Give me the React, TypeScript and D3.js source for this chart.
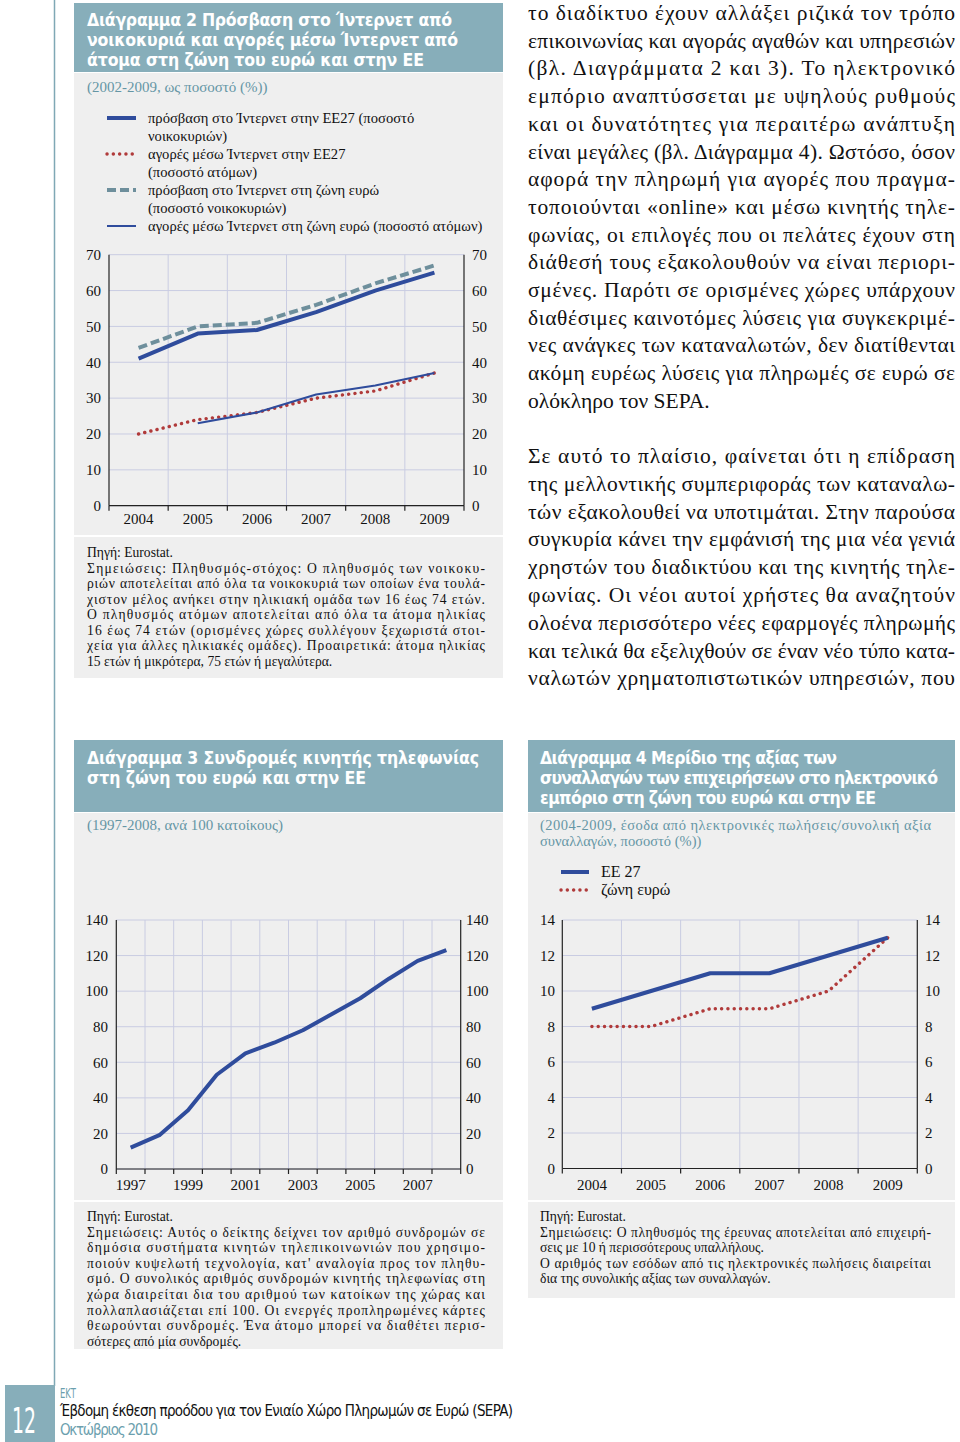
import React from "react";
import * as d3 from "d3";

// ---------- DATA ----------
const years2 = ["2004", "2005", "2006", "2007", "2008", "2009"];
const eu27HouseholdAccess = [41, 48, 49, 54, 60, 65];
const euroHouseholdAccess = [44, 50, 51, 56, 62, 67];
const eu27IndividualPurchases = [20, 24, 26, 30, 32, 37];
const euroIndividualPurchases: (number | null)[] = [null, 23, 26, 31, 33.5, 37];
const ticks2 = [0, 10, 20, 30, 40, 50, 60, 70];

const years3 = ["1997", "1998", "1999", "2000", "2001", "2002", "2003", "2004", "2005", "2006", "2007", "2008"];
const mobileSubscriptions = [12, 19, 33, 53, 65, 71, 78, 87, 96, 107, 117, 123];
const yearLabels3 = ["1997", "1999", "2001", "2003", "2005", "2007"];
const ticks3 = [0, 20, 40, 60, 80, 100, 120, 140];

const years4 = ["2004", "2005", "2006", "2007", "2008", "2009"];
const eu27EcommerceShare = [9, 10, 11, 11, 12, 13];
const euroEcommerceShare = [8, 8, 9, 9, 10, 13];
const ticks4 = [0, 2, 4, 6, 8, 10, 12, 14];

const title2 = [
  "Διάγραμμα 2 Πρόσβαση στο Ίντερνετ από",
  "νοικοκυριά και αγορές μέσω Ίντερνετ από",
  "άτομα στη ζώνη του ευρώ και στην ΕΕ",
];
const subtitle2 = "(2002-2009, ως ποσοστό (%))";
const legend2 = [
  ["πρόσβαση στο Ίντερνετ στην ΕΕ27 (ποσοστό", "νοικοκυριών)"],
  ["αγορές μέσω Ίντερνετ στην ΕΕ27", "(ποσοστό ατόμων)"],
  ["πρόσβαση στο Ίντερνετ στη ζώνη ευρώ", "(ποσοστό νοικοκυριών)"],
  ["αγορές μέσω Ίντερνετ στη ζώνη ευρώ (ποσοστό ατόμων)"],
];
const notes2 = [
  "Πηγή: Eurostat.",
  "Σημειώσεις: Πληθυσμός-στόχος: Ο πληθυσμός των νοικοκυ-",
  "ριών αποτελείται από όλα τα νοικοκυριά των οποίων ένα τουλά-",
  "χιστον μέλος ανήκει στην ηλικιακή ομάδα των 16 έως 74 ετών.",
  "Ο πληθυσμός ατόμων αποτελείται από όλα τα άτομα ηλικίας",
  "16 έως 74 ετών (ορισμένες χώρες συλλέγουν ξεχωριστά στοι-",
  "χεία για άλλες ηλικιακές ομάδες). Προαιρετικά: άτομα ηλικίας",
  "15 ετών ή μικρότερα, 75 ετών ή μεγαλύτερα.",
];
const notes2Justified = [false, true, true, true, true, true, true, false];

const title3 = ["Διάγραμμα 3 Συνδρομές κινητής τηλεφωνίας", "στη ζώνη του ευρώ και στην ΕΕ"];
const subtitle3 = "(1997-2008, ανά 100 κατοίκους)";
const notes3 = [
  "Πηγή: Eurostat.",
  "Σημειώσεις: Αυτός ο δείκτης δείχνει τον αριθμό συνδρομών σε",
  "δημόσια συστήματα κινητών τηλεπικοινωνιών που χρησιμο-",
  "ποιούν κυψελωτή τεχνολογία, κατ' αναλογία προς τον πληθυ-",
  "σμό. Ο συνολικός αριθμός συνδρομών κινητής τηλεφωνίας στη",
  "χώρα διαιρείται δια του αριθμού των κατοίκων της χώρας και",
  "πολλαπλασιάζεται επί 100. Οι ενεργές προπληρωμένες κάρτες",
  "θεωρούνται συνδρομές. Ένα άτομο μπορεί να διαθέτει περισ-",
  "σότερες από μία συνδρομές.",
];
const notes3Justified = [false, true, true, true, true, true, true, true, false];

const title4 = [
  "Διάγραμμα 4 Μερίδιο της αξίας των",
  "συναλλαγών των επιχειρήσεων στο ηλεκτρονικό",
  "εμπόριο στη ζώνη του ευρώ και στην ΕΕ",
];
const subtitle4 = ["(2004-2009, έσοδα από ηλεκτρονικές πωλήσεις/συνολική αξία", "συναλλαγών, ποσοστό (%))"];
const legend4 = ["ΕΕ 27", "ζώνη ευρώ"];
const notes4 = [
  "Πηγή: Eurostat.",
  "Σημειώσεις: Ο πληθυσμός της έρευνας αποτελείται από επιχειρή-",
  "σεις με 10 ή περισσότερους υπαλλήλους.",
  "Ο αριθμός των εσόδων από τις ηλεκτρονικές πωλήσεις διαιρείται",
  "δια της συνολικής αξίας των συναλλαγών.",
];
const notes4Justified = [false, true, false, true, false];

const body1 = [
  "το διαδίκτυο έχουν αλλάξει ριζικά τον τρόπο",
  "επικοινωνίας και αγοράς αγαθών και υπηρεσιών",
  "(βλ. Διαγράμματα 2 και 3). Το ηλεκτρονικό",
  "εμπόριο αναπτύσσεται με υψηλούς ρυθμούς",
  "και οι δυνατότητες για περαιτέρω ανάπτυξη",
  "είναι μεγάλες (βλ. Διάγραμμα 4). Ωστόσο, όσον",
  "αφορά την πληρωμή για αγορές που πραγμα-",
  "τοποιούνται «online» και μέσω κινητής τηλε-",
  "φωνίας, οι επιλογές που οι πελάτες έχουν στη",
  "διάθεσή τους εξακολουθούν να είναι περιορι-",
  "σμένες. Παρότι σε ορισμένες χώρες υπάρχουν",
  "διαθέσιμες καινοτόμες λύσεις για συγκεκριμέ-",
  "νες ανάγκες των καταναλωτών, δεν διατίθενται",
  "ακόμη ευρέως λύσεις για πληρωμές σε ευρώ σε",
  "ολόκληρο τον SEPA.",
];
const body2 = [
  "Σε αυτό το πλαίσιο, φαίνεται ότι η επίδραση",
  "της μελλοντικής συμπεριφοράς των καταναλω-",
  "τών εξακολουθεί να υποτιμάται. Στην παρούσα",
  "συγκυρία κάνει την εμφάνισή της μια νέα γενιά",
  "χρηστών του διαδικτύου και της κινητής τηλε-",
  "φωνίας. Οι νέοι αυτοί χρήστες θα αναζητούν",
  "ολοένα περισσότερο νέες εφαρμογές πληρωμής",
  "και τελικά θα εξελιχθούν σε έναν νέο τύπο κατα-",
  "ναλωτών χρηματοπιστωτικών υπηρεσιών, που",
];

const footerOrg = "ΕΚΤ";
const footerTitle = "Έβδομη έκθεση προόδου για τον Ενιαίο Χώρο Πληρωμών σε Ευρώ (SEPA)";
const footerDate = "Οκτώβριος 2010";
const pageNumber = "12";

// ---------- STYLE ----------
const TEAL = "#87AEBA";
const PANEL = "#EFEFEF";
const SUB = "#6596A5";
const BLUE = "#2F4C9C";
const RED = "#B03A3A";
const DASHC = "#6E8F9C";
const GRID = "#C9CCE2";
const SERIF = "'Liberation Serif', 'Times New Roman', serif";
const COND = "'DejaVu Sans Condensed', 'DejaVu Sans', sans-serif";

type Series = { values: (number | null)[]; color: string; width: number; dash?: string; cap?: "round" | "butt" };

const solidThick = (values: (number | null)[]): Series => ({ values, color: BLUE, width: 4 });
const solidThin = (values: (number | null)[]): Series => ({ values, color: BLUE, width: 2 });
const dotted = (values: (number | null)[]): Series => ({ values, color: RED, width: 3.4, dash: "0.1 6.2", cap: "round" });
const dashed = (values: (number | null)[]): Series => ({ values, color: DASHC, width: 4, dash: "9 4" });

function JText(p: { x: number; y: number; w?: number; text: string; size: number; fill?: string; family?: string; weight?: string | number; justify?: boolean }) {
  return (
    <text
      x={p.x}
      y={p.y}
      fontSize={p.size}
      fill={p.fill || "#111"}
      fontFamily={p.family || SERIF}
      fontWeight={p.weight}
      textLength={p.justify ? p.w : undefined}
      lengthAdjust={p.justify ? "spacing" : undefined}
    >
      {p.text}
    </text>
  );
}

function Lines(p: { lines: string[]; x: number; y0: number; lh: number; w: number; size: number; justify: boolean[]; fill?: string; family?: string; weight?: string | number }) {
  return (
    <g>
      {p.lines.map((t, i) => (
        <JText key={i} x={p.x} y={p.y0 + i * p.lh} w={p.w} text={t} size={p.size} justify={p.justify[i]} fill={p.fill} family={p.family} weight={p.weight} />
      ))}
    </g>
  );
}

function LineChart(p: {
  frame: { left: number; right: number; top: number; bottom: number };
  categories: string[];
  ticks: number[];
  series: Series[];
  labels: string[];
  leftLabelX: number;
  rightLabelX: number;
  xLabelY: number;
}) {
  const { frame, categories, ticks } = p;
  const x = d3.scaleBand<string>().domain(categories).range([frame.left, frame.right]).padding(0);
  const y = d3.scaleLinear().domain([0, d3.max(ticks) as number]).range([frame.bottom, frame.top]);
  const bw = x.bandwidth();
  const bounds = categories.map((c) => x(c) as number).concat([frame.right]);
  const mk = (vals: (number | null)[]) =>
    d3
      .line<[string, number | null]>()
      .defined((d) => d[1] != null)
      .x((d) => (x(d[0]) as number) + bw / 2)
      .y((d) => y(d[1] as number))(categories.map((c, i) => [c, vals[i]] as [string, number | null])) || "";
  return (
    <g>
      {ticks.map((t) => (
        <line key={"h" + t} x1={frame.left} x2={frame.right} y1={y(t)} y2={y(t)} stroke={GRID} strokeWidth={1} />
      ))}
      {bounds.slice(1, -1).map((b, i) => (
        <line key={"v" + i} x1={b} x2={b} y1={frame.top} y2={frame.bottom} stroke={GRID} strokeWidth={1} />
      ))}
      <line x1={frame.left} x2={frame.left} y1={frame.top} y2={frame.bottom} stroke="#222" strokeWidth={1.2} />
      <line x1={frame.right} x2={frame.right} y1={frame.top} y2={frame.bottom} stroke="#222" strokeWidth={1.2} />
      <line x1={frame.left} x2={frame.right} y1={frame.bottom} y2={frame.bottom} stroke="#222" strokeWidth={1.2} />
      {bounds.map((b, i) => (
        <line key={"t" + i} x1={b} x2={b} y1={frame.bottom} y2={frame.bottom + 5} stroke="#222" strokeWidth={1.2} />
      ))}
      {ticks.map((t) => (
        <text key={"l" + t} x={p.leftLabelX} y={y(t)} dy="0.35em" textAnchor="end" fontSize={15} fontFamily={SERIF} fill="#111">
          {t}
        </text>
      ))}
      {ticks.map((t) => (
        <text key={"r" + t} x={p.rightLabelX} y={y(t)} dy="0.35em" textAnchor="start" fontSize={15} fontFamily={SERIF} fill="#111">
          {t}
        </text>
      ))}
      {p.labels.map((c) => (
        <text key={"x" + c} x={(x(c) as number) + bw / 2} y={p.xLabelY} textAnchor="middle" fontSize={15} fontFamily={SERIF} fill="#111">
          {c}
        </text>
      ))}
      {p.series.map((s, i) => (
        <path key={"s" + i} d={mk(s.values)} fill="none" stroke={s.color} strokeWidth={s.width} strokeDasharray={s.dash} strokeLinecap={s.cap || "butt"} strokeLinejoin="round" />
      ))}
    </g>
  );
}

function LegendSample({ x1, x2, y, s }: { x1: number; x2: number; y: number; s: Series }) {
  return <line x1={x1} x2={x2} y1={y} y2={y} stroke={s.color} strokeWidth={s.width} strokeDasharray={s.dash} strokeLinecap={s.cap || "butt"} />;
}

export default function App() {
  const s2 = [solidThick(eu27HouseholdAccess), dashed(euroHouseholdAccess), dotted(eu27IndividualPurchases), solidThin(euroIndividualPurchases)];
  const legend2Series = [solidThick([]), dotted([]), dashed([]), solidThin([])];
  const legend2Rows = [0, 2, 4, 6];
  const s4 = [dotted(euroEcommerceShare), solidThick(eu27EcommerceShare)];

  return (
    <svg width={960} height={1442} style={{ position: "absolute", left: 0, top: 0, background: "#fff" }}>
      {/* page rule and page number */}
      <line x1={54.5} x2={54.5} y1={0} y2={1386} stroke="#7FA8B5" strokeWidth={1.5} />
      <rect x={5} y={1385} width={50} height={57} fill={TEAL} />
      <text x={12} y={1433} fontSize={36} fontFamily={COND} fill="#fff" textLength={24} lengthAdjust="spacingAndGlyphs">
        {pageNumber}
      </text>
      <text x={60} y={1398} fontSize={14} fontFamily={COND} fill="#6C9FAE" textLength={16} lengthAdjust="spacingAndGlyphs">
        {footerOrg}
      </text>
      <text x={60} y={1416} fontSize={15} fontFamily={COND} fill="#111" textLength={453} lengthAdjust="spacing">
        {footerTitle}
      </text>
      <text x={60} y={1435} fontSize={15} fontFamily={COND} fill="#6C9FAE" textLength={98} lengthAdjust="spacing">
        {footerDate}
      </text>

      {/* ===== Chart 2 ===== */}
      <rect x={74} y={3} width={429} height={69} fill={TEAL} />
      <rect x={74} y={73} width={429} height={462} fill={PANEL} />
      <rect x={74} y={537} width={429} height={141} fill={PANEL} />
      {title2.map((t, i) => (
        <JText key={i} x={87} y={26 + i * 20} w={[365, 371, 337][i]} text={t} size={17.5} fill="#fff" family={COND} weight="bold" justify />
      ))}
      <text x={87} y={92} fontSize={15} fontFamily={SERIF} fill={SUB}>
        {subtitle2}
      </text>
      {legend2.map((rows, i) => (
        <g key={i}>
          <LegendSample x1={107} x2={136} y={118 + legend2Rows[i] * 18} s={legend2Series[i]} />
          {rows.map((r, j) => (
            <text key={j} x={148} y={123 + (legend2Rows[i] + j) * 18} fontSize={14.6} fontFamily={SERIF} fill="#111">
              {r}
            </text>
          ))}
        </g>
      ))}
      <LineChart
        frame={{ left: 109, right: 464, top: 254.7, bottom: 505.7 }}
        categories={years2}
        ticks={ticks2}
        series={s2}
        labels={years2}
        leftLabelX={101}
        rightLabelX={472}
        xLabelY={524}
      />
      <Lines lines={notes2} x={87} y0={557} lh={15.5} w={398} size={13.6} justify={notes2Justified} />

      {/* ===== Right column text ===== */}
      <Lines lines={body1} x={528} y0={20} lh={27.7} w={427} size={21.5} justify={body1.map((_, i) => i < body1.length - 1)} />
      <Lines lines={body2} x={528} y0={463} lh={27.8} w={427} size={21.5} justify={body2.map(() => true)} />

      {/* ===== Chart 3 ===== */}
      <rect x={74} y={740} width={429} height={72} fill={TEAL} />
      <rect x={74} y={813} width={429} height={387} fill={PANEL} />
      <rect x={74} y={1202} width={429} height={147} fill={PANEL} />
      {title3.map((t, i) => (
        <JText key={i} x={87} y={764 + i * 20} w={[392, 279][i]} text={t} size={17.5} fill="#fff" family={COND} weight="bold" justify />
      ))}
      <text x={87} y={830} fontSize={15} fontFamily={SERIF} fill={SUB}>
        {subtitle3}
      </text>
      <LineChart
        frame={{ left: 116.3, right: 460.7, top: 920, bottom: 1169 }}
        categories={years3}
        ticks={ticks3}
        series={[solidThick(mobileSubscriptions)]}
        labels={yearLabels3}
        leftLabelX={108}
        rightLabelX={466}
        xLabelY={1190}
      />
      <Lines lines={notes3} x={87} y0={1221} lh={15.6} w={398} size={13.6} justify={notes3Justified} />

      {/* ===== Chart 4 ===== */}
      <rect x={528} y={740} width={427} height={72} fill={TEAL} />
      <rect x={528} y={813} width={427} height={387} fill={PANEL} />
      <rect x={528} y={1202} width={427} height={96} fill={PANEL} />
      {title4.map((t, i) => (
        <JText key={i} x={540} y={764 + i * 20} w={[297, 398, 336][i]} text={t} size={17.5} fill="#fff" family={COND} weight="bold" justify />
      ))}
      <JText x={540} y={830} w={391} text={subtitle4[0]} size={14.5} fill={SUB} justify />
      <JText x={540} y={846} text={subtitle4[1]} size={14.5} fill={SUB} />
      <LegendSample x1={561} x2={589} y={872} s={solidThick([])} />
      <LegendSample x1={561} x2={589} y={890} s={dotted([])} />
      <text x={601} y={877} fontSize={16} fontFamily={SERIF} fill="#111">
        {legend4[0]}
      </text>
      <text x={601} y={895} fontSize={16} fontFamily={SERIF} fill="#111">
        {legend4[1]}
      </text>
      <LineChart
        frame={{ left: 562.3, right: 917.3, top: 920, bottom: 1168.5 }}
        categories={years4}
        ticks={ticks4}
        series={s4}
        labels={years4}
        leftLabelX={555}
        rightLabelX={925}
        xLabelY={1190}
      />
      <Lines lines={notes4} x={540} y0={1221} lh={15.6} w={391} size={13.6} justify={notes4Justified} />
    </svg>
  );
}
